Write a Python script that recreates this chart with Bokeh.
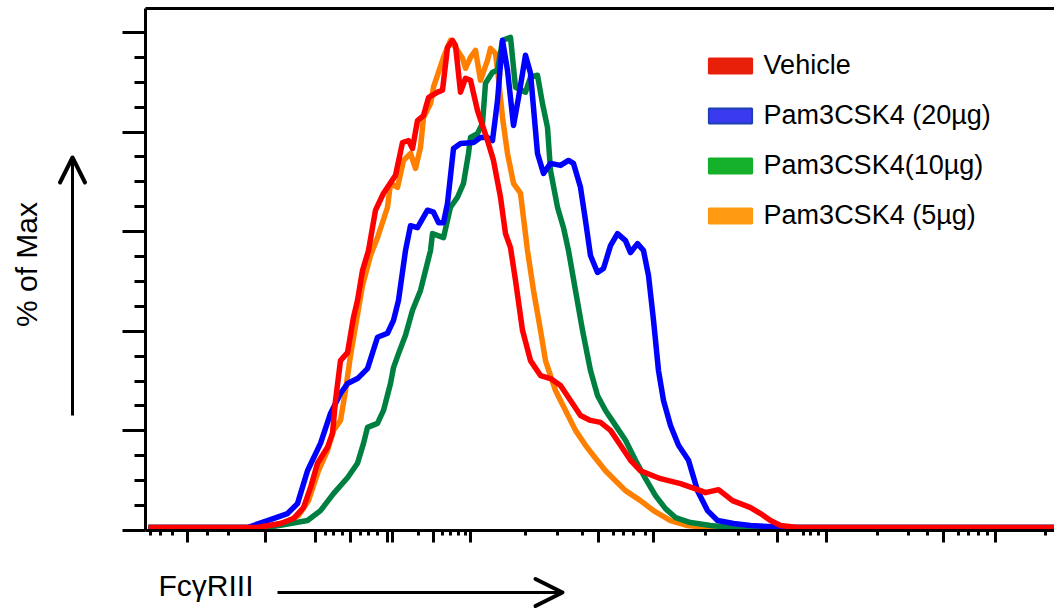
import math
from bokeh.plotting import figure
from bokeh.layouts import row, column
from bokeh.models import (Range1d, FixedTicker, LinearAxis, Legend, LegendItem,
                          Label, Arrow, OpenHead)
from bokeh.embed import file_html
from bokeh.resources import INLINE

# ---------------- data (display channel, % of max) ----------------
vehicle_x = [3, 112, 135, 148, 158, 165, 172, 182, 187, 190, 195, 202, 208, 212, 217, 223, 230, 238, 250, 257,
             263, 267, 272, 278, 283, 292, 297, 302, 307, 310, 315, 320, 325, 332, 342, 348, 355, 360, 365, 370,
             377, 385, 395, 405, 415, 425, 435, 445, 455, 465, 475, 485, 495, 515, 535, 555, 560, 573, 587, 605,
             615, 625, 635, 652, 909]
vehicle_y = [0.6, 0.6, 1.4, 2.4, 4.6, 8.6, 13.5, 16.7, 19.5, 26.1, 34.1, 35.7, 42.8, 46.2, 52.2, 56.2, 64.3, 67.7, 71.3, 77.9,
             78.3, 76.7, 82.3, 83.3, 86.9, 88.0, 88.4, 97.0, 98.4, 97.4, 88.0, 90.8, 90.4, 84.3, 78.3, 74.3, 66.9, 59.6, 56.8, 50.2,
             40.2, 34.1, 31.1, 30.5, 29.1, 26.1, 23.1, 22.1, 21.7, 20.1, 17.1, 14.1, 12.0, 10.4, 9.4, 8.0, 7.6, 8.2, 6.0, 4.6,
             3.4, 2.0, 1.0, 0.6, 0.6]

pam20_x = [3, 102, 122, 142, 152, 162, 175, 185, 195, 202, 212, 222, 232, 242, 248, 253, 260, 265, 272, 282,
           288, 293, 298, 302, 308, 315, 328, 335, 342, 347, 352, 357, 362, 368, 373, 380, 385, 392, 398, 405,
           415, 423, 428, 435, 440, 445, 452, 458, 465, 472, 480, 485, 492, 498, 503, 508, 513, 518, 525, 533,
           543, 552, 562, 572, 588, 605, 622, 642, 909]
pam20_y = [0.6, 0.6, 2.0, 3.4, 5.4, 12.0, 17.5, 23.5, 27.5, 29.5, 30.5, 32.5, 38.8, 39.6, 42.2, 46.2, 56.2, 61.2, 60.8, 64.3,
           63.9, 61.8, 61.8, 65.7, 76.7, 77.7, 77.9, 78.9, 78.9, 78.3, 86.3, 98.4, 92.4, 81.3, 86.9, 95.4, 91.8, 75.7, 71.7, 73.7,
           73.3, 74.3, 73.7, 68.9, 62.2, 55.2, 51.8, 52.6, 57.2, 59.6, 58.2, 55.8, 57.6, 56.2, 51.2, 42.2, 32.1, 26.1, 21.1, 17.1,
           14.1, 8.0, 4.0, 2.0, 1.4, 1.0, 0.8, 0.6, 0.6]

pam10_x = [3, 122, 145, 162, 175, 188, 202, 212, 218, 222, 232, 238, 245, 248, 253, 260, 267, 275, 280, 285,
           287, 298, 305, 312, 318, 323, 325, 332, 337, 340, 347, 352, 357, 365, 370, 380, 385, 392, 397, 402,
           405, 412, 418, 423, 430, 437, 445, 452, 460, 470, 480, 490, 500, 510, 520, 530, 545, 565, 585, 909]
pam10_y = [0.6, 0.6, 1.4, 2.0, 4.0, 7.4, 10.6, 13.5, 17.5, 20.7, 21.5, 24.1, 29.5, 32.7, 35.5, 39.2, 44.2, 48.2, 52.2, 56.2,
           59.6, 58.8, 64.9, 66.9, 69.7, 75.7, 78.9, 79.7, 81.7, 89.8, 92.0, 92.4, 98.4, 99.0, 89.0, 88.0, 91.0, 91.4, 85.7, 80.9,
           72.3, 64.9, 60.8, 56.2, 48.2, 40.2, 32.1, 27.1, 24.1, 21.1, 18.1, 14.1, 10.4, 7.0, 4.4, 2.6, 1.6, 1.0, 0.6, 0.6]

pam5_x = [3, 117, 140, 153, 163, 173, 182, 188, 195, 200, 205, 211, 217, 225, 232, 242, 245, 252, 258, 265,
          270, 275, 278, 285, 288, 298, 305, 312, 317, 320, 325, 330, 335, 342, 345, 350, 353, 357, 362, 368,
          375, 382, 388, 395, 400, 410, 420, 430, 440, 450, 460, 470, 480, 495, 508, 525, 542, 562, 909]
pam5_y = [0.6, 0.6, 1.6, 3.0, 6.0, 12.0, 16.1, 20.1, 22.1, 28.1, 35.1, 42.2, 49.2, 55.2, 58.8, 64.9, 69.7, 68.9, 74.3, 75.7,
          72.7, 76.9, 82.9, 85.7, 89.0, 95.0, 98.4, 96.4, 94.8, 92.8, 95.0, 96.4, 90.4, 94.4, 96.8, 95.8, 90.8, 82.9, 75.7, 69.7,
          67.7, 56.2, 48.2, 40.2, 34.1, 28.1, 24.1, 20.1, 17.1, 14.5, 12.0, 10.0, 8.0, 6.0, 4.0, 2.0, 1.0, 0.6, 0.6]

series_labels = ["Vehicle", "Pam3CSK4 (20\u00b5g)", "Pam3CSK4(10\u00b5g)", "Pam3CSK4 (5\u00b5g)"]
y_title = "% of Max"
x_title = "Fc\u03b3RIII"

# x-axis (logicle-like) tick positions in display channels
x_long_ticks = [170, 242, 247, 325, 508, 681, 850]
x_medium_ticks = [42, 120, 205, 288, 453, 632, 798]
x_short_ticks = [5, 15, 27, 62, 83, 180, 188, 197, 215, 223, 232, 273, 297, 305, 313, 320, 380, 412, 437,
                 468, 478, 488, 500, 560, 593, 613, 642, 658, 665, 673, 732, 763, 782, 813, 823, 833, 842, 900]
y_major_ticks = [0, 20, 40, 60, 80, 100]
y_minor_ticks = [5, 10, 15, 25, 30, 35, 45, 50, 55, 65, 70, 75, 85, 90, 95]

FONT = "Liberation Sans"
NAN = float("nan")
LW = 5.5


def style_fig(f):
    f.outline_line_color = None
    f.background_fill_color = "white"
    f.border_fill_color = "white"
    f.grid.visible = False
    return f


def plain_axis(ticker, tick_out, minor_out):
    return LinearAxis(ticker=ticker, axis_line_width=3, axis_line_color="black",
                      major_tick_out=tick_out, major_tick_in=0, major_tick_line_width=3,
                      minor_tick_out=minor_out, minor_tick_in=0, minor_tick_line_width=3,
                      major_label_text_font_size="0px", major_label_text_color=None,
                      major_label_standoff=0)


# ---------------- main histogram ----------------
p = style_fig(figure(width=954, height=560, output_backend="svg", toolbar_location=None,
                     x_range=Range1d(0, 909), y_range=Range1d(0, 104.8),
                     min_border_left=45, min_border_right=0, min_border_top=8, min_border_bottom=30,
                     x_axis_type=None, y_axis_type=None))

p.line(pam5_x, pam5_y, line_color="#FF8000", line_width=LW, line_join="round")
p.line(pam10_x, pam10_y, line_color="#008040", line_width=LW, line_join="round")
p.line(pam20_x, pam20_y, line_color="#0000FF", line_width=LW, line_join="round")
p.line(vehicle_x, vehicle_y, line_color="#FF0000", line_width=LW, line_join="round")

p.add_layout(plain_axis(FixedTicker(ticks=sorted(x_long_ticks + x_medium_ticks), minor_ticks=x_short_ticks),
                        12, 5), "below")
p.add_layout(plain_axis(FixedTicker(ticks=y_major_ticks, minor_ticks=y_minor_ticks), 23, 11), "left")
p.add_layout(plain_axis(FixedTicker(ticks=[], minor_ticks=[]), 0, 0), "above")

# legend with rectangular swatches (dummy renderers hold no visible data)
sw_colors = [("#E8200A", "#E8200A"), ("#3A3AF0", "#1F3FB0"), ("#14B02A", "#14B02A"), ("#FF9A10", "#FF9A10")]
items = []
for lab, (fc, lc) in zip(series_labels, sw_colors):
    r = p.rect(x=[NAN], y=[NAN], width=1, height=1, fill_color=fc, line_color=lc, line_width=2)
    items.append(LegendItem(label=lab, renderers=[r]))
legend = Legend(items=items, location=(557.6, 299.5), glyph_width=54, glyph_height=19,
                label_standoff=7, spacing=19, padding=0, margin=0,
                border_line_color=None, background_fill_alpha=0,
                label_text_font=FONT, label_text_font_size="27px", label_text_color="black",
                label_height=20)
p.add_layout(legend)

# ---------------- left strip: y title + arrow ----------------
left = style_fig(figure(width=100, height=610, output_backend="svg", toolbar_location=None,
                        x_range=Range1d(0, 100), y_range=Range1d(0, 610),
                        min_border_left=0, min_border_right=0, min_border_top=0, min_border_bottom=0,
                        x_axis_type=None, y_axis_type=None))
left.add_layout(Label(x=26, y=346, text=y_title, angle=math.pi / 2,
                      text_align="center", text_baseline="middle",
                      text_font=FONT, text_font_size="30px", text_color="black"))
left.add_layout(Arrow(end=OpenHead(size=25, line_width=4, line_cap="round", line_join="round",
                                   line_color="black"),
                      x_start=72, y_start=195, x_end=72, y_end=453,
                      line_width=3, line_color="black"))

# ---------------- bottom strip: x title + arrow (frame aligned with the histogram) ----------------
bottom = style_fig(figure(width=954, height=50, output_backend="svg", toolbar_location=None,
                          x_range=Range1d(0, 909), y_range=Range1d(0, 50),
                          min_border_left=45, min_border_right=0, min_border_top=0, min_border_bottom=0,
                          x_axis_type=None, y_axis_type=None))
bottom.add_layout(Label(x=13, y=25, text=x_title, text_align="left", text_baseline="middle",
                        text_font=FONT, text_font_size="30px", text_color="black"))
bottom.add_layout(Arrow(end=OpenHead(size=27, line_width=4, line_cap="round", line_join="round",
                                     line_color="black"),
                        x_start=132, y_start=18, x_end=417, y_end=18,
                        line_width=3, line_color="black"))

layout = row(left, column(p, bottom, spacing=0), spacing=0)

open("out.html", "w").write(file_html(layout, INLINE))
